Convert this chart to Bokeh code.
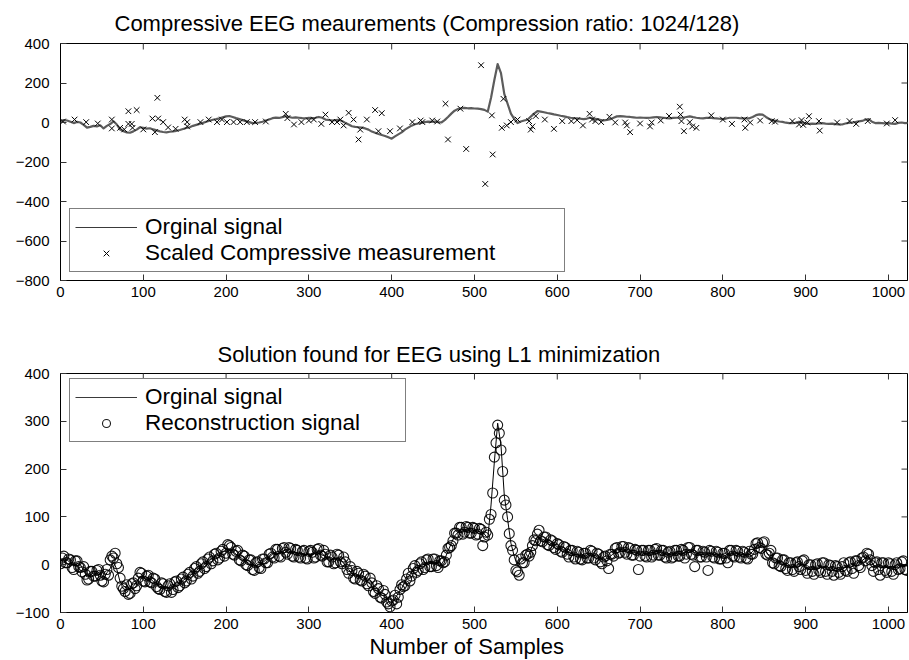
import math

from bokeh.plotting import figure
from bokeh.layouts import column
from bokeh.models import Range1d, FixedTicker, Legend, LegendItem, Title
from bokeh.embed import file_html
from bokeh.resources import INLINE

# ---------------------------------------------------------------- data
# EEG signal, one value every 4 samples (sample 0 .. 1024)
signal_idx = list(range(0, 1025, 4))
signal = [
    7, 12, 10, 4, -3, 3, 0, -12, -26, -22, -17, -20, -14, -30, -17, -8,
    6, -10, -36, -44, -50, -52, -45, -36, -24, -27, -31, -29, -35, -40, -45, -48,
    -50, -47, -45, -42, -38, -33, -28, -24, -17, -12, -7, -2, 4, 9, 14, 17,
    21, 26, 31, 33, 28, 22, 17, 12, 7, 2, -3, -2, 0, 4, 10, 15,
    22, 25, 23, 27, 32, 28, 24, 26, 24, 22, 21, 23, 21, 24, 28, 24,
    15, 13, 10, 12, 14, 8, -2, -10, -19, -22, -24, -26, -30, -36, -46, -52,
    -58, -63, -68, -75, -82, -70, -60, -50, -36, -26, -16, -9, -5, -2, 2, 4,
    3, 5, 2, 0, 12, 28, 45, 60, 68, 72, 74, 72, 73, 71, 70, 68,
    64, 55, 125, 215, 296, 250, 145, 95, 45, 18, -3, 5, 10, 14, 30, 45,
    58, 55, 52, 48, 45, 41, 38, 34, 31, 27, 24, 22, 21, 19, 17, 20,
    24, 20, 17, 13, 10, 13, 17, 24, 31, 32, 31, 29, 28, 26, 24, 25,
    24, 23, 24, 26, 28, 26, 24, 22, 21, 23, 24, 24, 24, 28, 31, 27,
    24, 22, 21, 23, 24, 22, 21, 19, 17, 20, 24, 24, 24, 22, 21, 21,
    21, 28, 37, 41, 40, 28, 18, 11, 8, 5, 3, -1, -3, -3, -2, 3,
    1, -5, -7, -6, -7, -4, -3, -6, -7, -6, -8, -9, -10, -5, -2, 0,
    2, 6, 8, 14, 17, 4, -3, -2, -3, -4, -3, -6, -7, -2, 0, -3,
    -2,
]

# L1 reconstruction at samples 0, 4, 8 ... 1020
recon_a_idx = list(range(0, 1024, 4))
recon_a = [
    2, 18, 4, 10, -10, 8, -6, -4, -32, -14, -24, -12, -22, -36, -10, 10,
    14, 2, -28, -50, -42, -60, -38, -44, -16, -34, -24, -36, -28, -46, -52, -40,
    -58, -40, -52, -34, -44, -26, -34, -16, -24, -4, -14, 6, -4, 16, 8, 24,
    14, 32, 24, 40, 22, 28, 10, 20, 0, 10, -10, 4, -6, 12, 4, 22,
    16, 32, 18, 34, 26, 36, 18, 32, 16, 28, 14, 28, 26, 16, 34, 18,
    22, 6, 16, 4, 20, 2, 6, -18, -12, -30, -18, -34, -24, -44, -38, -60,
    -50, -70, -62, -82, -76, -64, -68, -42, -44, -18, -24, -2, -12, 6, -6, 12,
    -4, 12, -6, 8, 6, 34, 40, 66, 62, 78, 68, 78, 66, 76, 64, 74,
    58, 62, 105, 225, 292, 240, 135, 100, 40, 10, -15, 12, 4, 22, 26, 52,
    64, 50, 58, 42, 52, 36, 44, 28, 38, 22, 30, 16, 28, 12, 24, 14,
    30, 14, 24, 6, 16, 8, 22, 18, 36, 26, 38, 22, 34, 20, 30, 18,
    30, 16, 30, 20, 34, 20, 30, 14, 28, 16, 30, 18, 30, 22, 36, 20,
    30, 16, 28, 16, 30, 16, 28, 12, 24, 14, 30, 18, 30, 16, 28, 14,
    28, 22, 44, 36, 46, 22, 24, 4, 14, -2, 10, -8, 4, -10, 4, -4,
    8, -12, 0, -14, 0, -12, 4, -14, 0, -14, -2, -16, -4, -12, 4, -8,
    8, -2, 14, 8, 22, -2, 4, -10, 4, -12, 4, -14, 0, -10, 6, -10,
]

# L1 reconstruction at samples 2, 6, 10 ... 1022
recon_b_idx = list(range(2, 1024, 4))
recon_b = [
    14, 4, 12, -6, 8, -4, -15, -20, -30, -14, -24, -10, -34, -20, -22, 18,
    24, -6, -45, -56, -62, -40, -50, -28, -18, -36, -22, -38, -30, -50, -38, -56,
    -44, -58, -36, -48, -30, -38, -20, -30, -8, -18, 2, -8, 12, 2, 22, 10,
    28, 18, 42, 36, 20, 30, 8, 18, -2, 10, -12, 6, -8, 12, 4, 24,
    14, 32, 16, 36, 22, 34, 16, 30, 14, 30, 12, 30, 14, 32, 20, 30,
    6, 20, 2, 22, 6, 16, -10, -4, -28, -14, -32, -20, -40, -28, -56, -44,
    -68, -54, -78, -88, -74, -82, -52, -46, -30, -34, -8, -16, 2, -10, 10, -4,
    12, -2, 8, 4, 20, 36, 50, 66, 78, 64, 80, 66, 78, 62, 76, 40,
    68, 95, 150, 255, 275, 195, 125, 65, 30, -12, -22, 4, 20, 18, 40, 50,
    72, 48, 58, 40, 50, 32, 42, 26, 36, 16, 30, 12, 26, 10, 24, 14,
    28, 10, 22, 2, 18, -8, 22, 34, 24, 38, 26, 36, 20, 32, -10, 30,
    18, 30, 16, 32, 20, 30, 16, 26, 14, 30, 18, 32, 14, 36, 22, -4,
    30, 16, 26, -12, 28, 14, 26, 12, 24, 4, 30, 16, 28, 14, 26, 12,
    22, 32, 46, 34, 48, 20, 30, 2, 14, -4, 10, -12, 4, -14, 6, -10,
    10, -18, 0, -20, 2, -16, 4, -20, -2, -22, -4, -20, 4, -14, 6, -18,
    8, -6, 16, 24, 10, -14, 6, -22, 4, -16, 2, -20, 4, -8, 8, -12,
]

# 128 scaled compressive measurements (position, value)
meas_idx = [
    3, 17, 31, 45, 62, 62, 72, 77, 82, 82, 86, 87, 92, 100, 111, 114,
    117, 118, 124, 130, 139, 150, 153, 153, 169, 179, 189, 195, 201, 209, 217, 225,
    235, 248, 272, 274, 282, 291, 300, 306, 315, 320, 328, 334, 338, 342, 348, 354,
    360, 362, 370, 380, 384, 388, 398, 410, 425, 435, 437, 449, 455, 465, 468, 483,
    490, 508, 513, 521, 522, 533, 535, 539, 544, 552, 566, 568, 570, 574, 585, 596,
    606, 617, 624, 631, 639, 642, 646, 653, 663, 670, 682, 684, 688, 700, 712, 714,
    725, 735, 748, 749, 750, 753, 760, 763, 768, 786, 800, 811, 826, 827, 833, 845,
    859, 863, 884, 892, 895, 897, 902, 904, 916, 917, 938, 953, 961, 975, 998, 1008,
]
meas_val = [
    5, 15, 2, -5, 15, -30, -27, -35, 57, -7, -7, -27, 63, -35, 20, -49,
    125, 20, 2, -25, -32, 15, 2, -20, 2, 15, 2, 15, 2, 2, 2, 2,
    2, 5, 44, 22, -10, 2, 10, 15, -7, 40, 2, 2, 15, -15, 49, 15,
    -86, -36, 15, 63, -44, 47, -44, -30, 2, 10, 2, 10, 5, 95, -86, 70,
    -134, 290, -311, 36, -162, -27, 120, -15, 2, 15, 7, -36, -20, 33, 15, -32,
    7, 7, 12, -15, 44, 15, 7, 2, 29, 0, 0, -15, -49, -5, -20, 0,
    10, 33, 80, 40, 7, -44, 2, -20, -27, 36, 15, -7, 15, -27, 0, 10,
    7, 4, 7, -10, 12, -12, 0, 32, 7, -41, 0, 7, -7, 7, -5, 12,
]

x_ticks = list(range(0, 1001, 100))
top_y_ticks = [-800, -600, -400, -200, 0, 200, 400]
bottom_y_ticks = [-100, 0, 100, 200, 300, 400]
X_MAX = 1023

TICK_FONT = "'Liberation Sans', Arial, sans-serif"
TEXT_FONT = "'Liberation Sans', Arial, sans-serif"
TICK_COLOR = "#333333"


def minus(v):
    return str(v).replace("-", "\u2212")


def make_axes_figure(y_lo, y_hi, y_ticks, frame_h, border_top, border_bottom):
    p = figure(frame_width=847, frame_height=frame_h,
               x_range=Range1d(0, X_MAX), y_range=Range1d(y_lo, y_hi),
               output_backend="svg", toolbar_location=None,
               min_border_left=60, min_border_right=2,
               min_border_top=border_top, min_border_bottom=border_bottom,
               background_fill_color="white", border_fill_color="white")
    p.grid.visible = False
    p.outline_line_color = "black"
    p.outline_line_width = 1

    p.xaxis.ticker = FixedTicker(ticks=x_ticks)
    p.yaxis.ticker = FixedTicker(ticks=y_ticks)
    p.yaxis.major_label_overrides = {t: minus(t) for t in y_ticks}
    for ax in (p.xaxis[0], p.yaxis[0]):
        ax.major_tick_in = 6
        ax.major_tick_out = 0
        ax.minor_tick_line_color = None
        ax.axis_line_color = "black"
        ax.major_tick_line_color = TICK_COLOR
        ax.major_label_text_font = TICK_FONT
        ax.major_label_text_font_size = "15px"
        ax.major_label_text_color = "black"
    p.yaxis.major_label_standoff = 11
    p.xaxis.major_label_standoff = 6

    # inward tick marks along the top and right edges of the box
    # (dash markers centred on the edge; the half outside the frame is clipped)
    p.scatter(x_ticks, [y_hi] * len(x_ticks), marker="dash", angle=math.pi / 2,
              size=12, line_color=TICK_COLOR, line_width=1)
    p.scatter([X_MAX] * len(y_ticks), y_ticks, marker="dash",
              size=12, line_color=TICK_COLOR, line_width=1)
    return p


def style_legend(leg, label_w):
    leg.border_line_color = "black"
    leg.border_line_width = 1
    leg.background_fill_color = "white"
    leg.background_fill_alpha = 1.0
    leg.label_text_font = TEXT_FONT
    leg.label_text_font_size = "22.5px"
    leg.label_text_color = "black"
    leg.padding = 5
    leg.spacing = 0
    leg.margin = 0
    leg.glyph_width = 62
    leg.glyph_height = 20
    leg.label_standoff = 8
    leg.label_width = label_w


def title(text, offset, standoff=10):
    return Title(text=text, align="left", offset=offset, standoff=standoff,
                 text_font=TEXT_FONT, text_font_size="22px",
                 text_font_style="normal", text_color="black")


# ---------------------------------------------------------------- upper panel
p1 = make_axes_figure(-800, 400, top_y_ticks, 237, 43, 50)
p1.line(signal_idx, signal, line_color="#5c5c5c", line_width=2.2, line_join="round")
meas_r = p1.scatter(meas_idx, meas_val, marker="x", size=8,
                    line_color="black", line_width=1)
# legend key for the signal: a one-point line, so nothing shows in the plot
sig_key1 = p1.line(signal_idx[:1], signal[:1], line_color="#3a3a3a", line_width=1.2)

leg1 = Legend(items=[LegendItem(label="Orginal signal", renderers=[sig_key1]),
                     LegendItem(label="Scaled Compressive measurement", renderers=[meas_r])],
              location=(9, 8))
style_legend(leg1, 414)
p1.add_layout(leg1, "center")
p1.add_layout(title("Compressive EEG meaurements (Compression ratio: 1024/128)", 54, 15), "above")

# ---------------------------------------------------------------- lower panel
p2 = make_axes_figure(-100, 400, bottom_y_ticks, 239, 43, 48)
p2.line(signal_idx, signal, line_color="black", line_width=1)
rec_r = p2.scatter(recon_a_idx + recon_b_idx, recon_a + recon_b, marker="circle", size=10,
                   line_color="black", line_width=1.1, fill_color=None, line_alpha=0.9)
sig_key2 = p2.line(signal_idx[:1], signal[:1], line_color="#3a3a3a", line_width=1.2)

leg2 = Legend(items=[LegendItem(label="Orginal signal", renderers=[sig_key2]),
                     LegendItem(label="Reconstruction signal", renderers=[rec_r])],
              location=(9, 170))
style_legend(leg2, 255)
p2.add_layout(leg2, "center")
p2.add_layout(title("Solution found for EEG using L1 minimization", 157, 13), "above")
p2.add_layout(title("Number of Samples", 309, 0), "below")

layout = column(p1, p2, spacing=0)
open("out.html", "w").write(file_html(layout, INLINE))
